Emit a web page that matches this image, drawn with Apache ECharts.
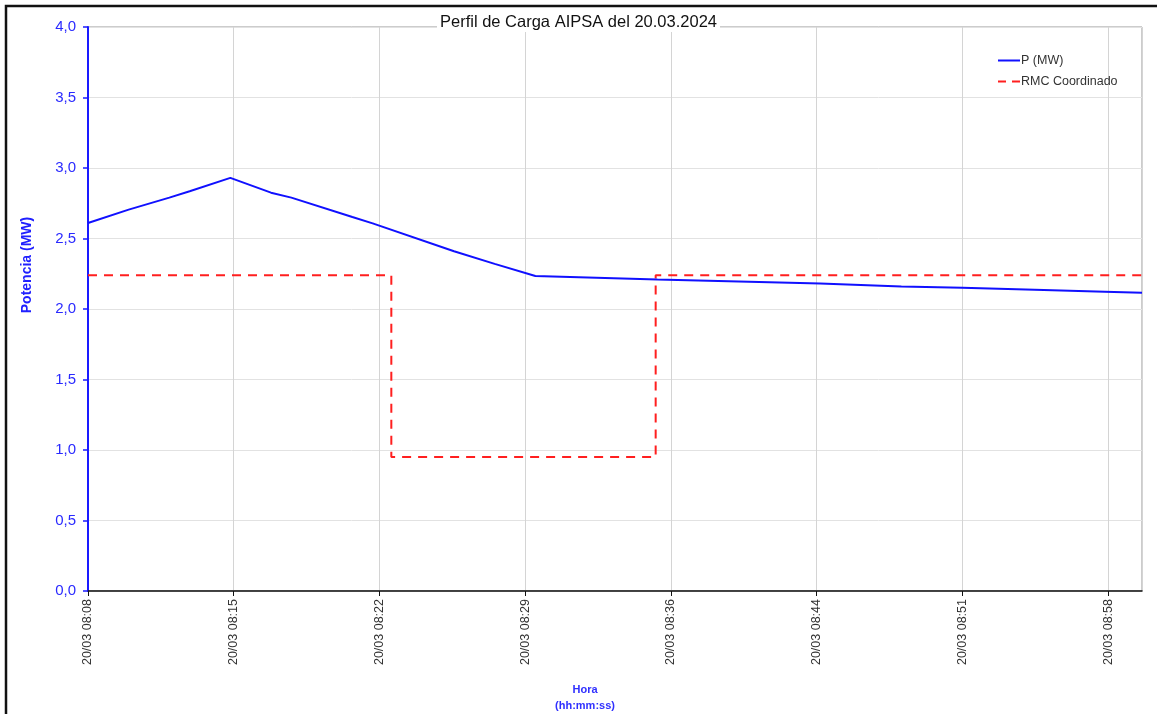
<!DOCTYPE html>
<html>
<head>
<meta charset="utf-8">
<script src="https://cdn.jsdelivr.net/npm/echarts@6/dist/echarts.min.js"></script>
<style>html,body{margin:0;padding:0;background:#fff;}#c{width:1157px;height:714px;}</style>
</head>
<body>
<div id="c"></div>
<script>
// ---- data ----
const titleText = 'Perfil de Carga AIPSA del 20.03.2024';
const dayLabel = '20/03';
const startTime = '08:08:15';
const endTime = '09:00:05';
const tickIntervalSec = 430;
const pName = 'P (MW)';
const pTimes = ['08:08:15','08:10:15','08:12:15','08:13:15','08:15:15','08:17:15','08:18:15','08:21:15','08:22:15','08:26:15','08:28:15','08:30:15','08:33:15','08:36:15','08:40:15','08:44:15','08:48:15','08:51:15','08:55:15','08:58:15','09:00:05'];
const pValues = [2.61,2.705,2.79,2.835,2.93,2.825,2.79,2.652,2.607,2.41,2.32,2.234,2.222,2.21,2.195,2.18,2.16,2.15,2.135,2.123,2.116];
const rmcName = 'RMC Coordinado';
const rmcTimes = ['08:08:15','08:23:10','08:36:10','09:00:05'];
const rmcValues = [2.24,0.95,2.24,2.24];
const yTicks = [0,0.5,1,1.5,2,2.5,3,3.5,4];

function toSec(s){const p=s.split(':').map(Number);return p[0]*3600+p[1]*60+(p[2]||0);}
const T0 = toSec(startTime);
function rel(s){return toSec(s)-T0;}
function fmt(v){const t=T0+v;const h=Math.floor(t/3600),m=Math.floor((t%3600)/60);return dayLabel+' '+String(h).padStart(2,'0')+':'+String(m).padStart(2,'0');}

const pData = pTimes.map((t,i)=>[rel(t),pValues[i]]);
const rmcData = rmcTimes.map((t,i)=>[rel(t),rmcValues[i]]);

const chart = echarts.init(document.getElementById('c'));
const font = 'Liberation Sans, Arial, sans-serif';
chart.setOption({
  animation:false,
  backgroundColor:'#fff',
  textStyle:{fontFamily:font},
  title:{text:titleText,left:'center',top:13,padding:[1,3],backgroundColor:'#fff',
    textStyle:{fontSize:16.5,fontWeight:'normal',color:'#111',fontFamily:font}},
  legend:{orient:'vertical',left:993,top:49,itemWidth:22,itemHeight:10,itemGap:8,
    textStyle:{fontSize:12.5,color:'#333',fontFamily:font,padding:[0,0,0,-4]},
    data:[{name:pName,icon:'path://M0,4L22,4L22,6L0,6Z'},
          {name:rmcName,icon:'path://M0,4L8,4L8,6L0,6Z M14,4L22,4L22,6L14,6Z'}]},
  grid:{left:88,right:15,top:27,bottom:123,show:true,borderColor:'#999',borderWidth:1,backgroundColor:'transparent'},
  xAxis:{type:'value',min:0,max:rel(endTime),interval:tickIntervalSec,
    axisLine:{lineStyle:{color:'#111',width:1.5}},
    axisTick:{show:true,length:5,lineStyle:{color:'#111'}},
    axisLabel:{rotate:90,margin:8,fontSize:12.5,color:'#333',fontFamily:font,showMaxLabel:false,formatter:fmt},
    splitLine:{show:true,lineStyle:{color:'#d4d4d4',width:1}}},
  yAxis:{type:'value',min:yTicks[0],max:yTicks[yTicks.length-1],interval:yTicks[1]-yTicks[0],
    axisLine:{show:true,lineStyle:{color:'#1a1aff',width:2}},
    axisTick:{show:true,length:5,lineStyle:{color:'#1a1aff',width:1.5}},
    axisLabel:{margin:12,fontSize:15,color:'#2a2aff',fontFamily:font,formatter:v=>v.toFixed(1).replace('.',',')},
    splitLine:{show:true,lineStyle:{color:'#e2e2e2',width:1}}},
  series:[
    {name:pName,type:'line',data:pData,symbol:'none',showSymbol:false,
      lineStyle:{color:'#1010ff',width:2},itemStyle:{color:'#1010ff'},z:3},
    {name:rmcName,type:'line',data:rmcData,step:'end',symbol:'none',showSymbol:false,
      lineStyle:{color:'#ff1f1f',width:2,type:[9,7]},itemStyle:{color:'#ff1f1f'},z:2}
  ],
  graphic:[
    {type:'rect',shape:{x:6,y:6,width:1300,height:900},style:{fill:'none',stroke:'#111',lineWidth:2.5},silent:true},
    {type:'text',x:27,y:265,rotation:Math.PI/2,style:{text:'Potencia (MW)',font:'bold 14px '+font,fill:'#2020ff',align:'center',verticalAlign:'middle'}},
    {type:'text',x:585,y:690,style:{text:'Hora',font:'bold 11px '+font,fill:'#3030ff',align:'center',verticalAlign:'middle'}},
    {type:'text',x:585,y:706,style:{text:'(hh:mm:ss)',font:'bold 11px '+font,fill:'#3030ff',align:'center',verticalAlign:'middle'}}
  ]
});
</script>
</body>
</html>
